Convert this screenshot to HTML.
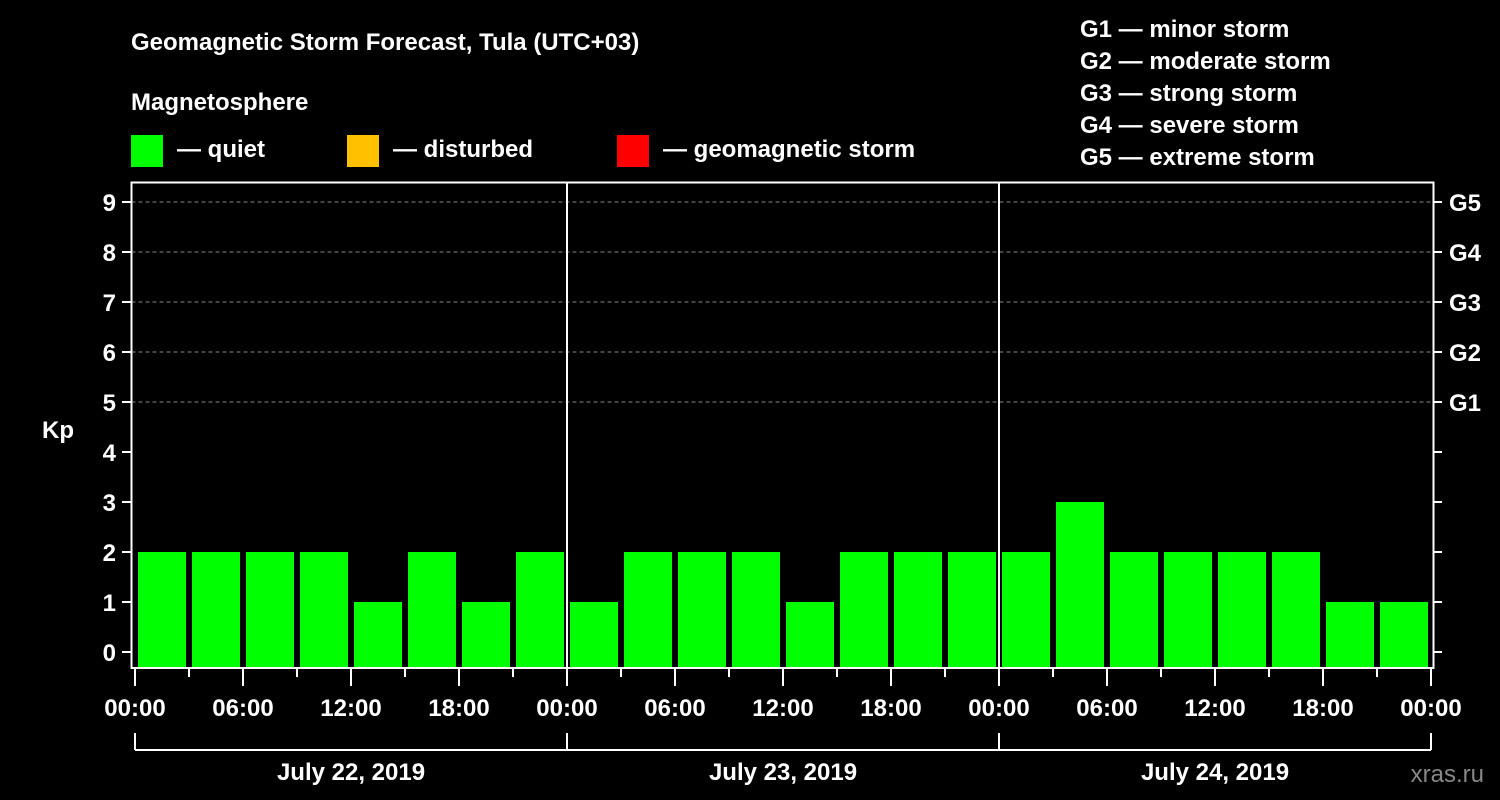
<!DOCTYPE html>
<html><head><meta charset="utf-8"><style>
body{margin:0;background:#000;}
svg{display:block;font-family:"Liberation Sans",Arial,sans-serif;font-weight:bold;}
</style></head><body>
<svg id="c" width="1500" height="800" viewBox="0 0 1500 800">
<rect width="1500" height="800" fill="#000"/>
<text x="131" y="50" fill="#fff" font-size="24">Geomagnetic Storm Forecast, Tula (UTC+03)</text>
<text x="131" y="110" fill="#fff" font-size="24">Magnetosphere</text>
<g><rect x="131" y="135" width="32" height="32" fill="#00ff00"/><text x="177" y="157" fill="#fff" font-size="24">— quiet</text></g>
<g><rect x="347" y="135" width="32" height="32" fill="#ffc000"/><text x="393" y="157" fill="#fff" font-size="24">— disturbed</text></g>
<g><rect x="617" y="135" width="32" height="32" fill="#ff0000"/><text x="663" y="157" fill="#fff" font-size="24">— geomagnetic storm</text></g>
<g fill="#fff" font-size="24">
<text x="1080" y="37">G1 — minor storm</text>
<text x="1080" y="69">G2 — moderate storm</text>
<text x="1080" y="101">G3 — strong storm</text>
<text x="1080" y="133">G4 — severe storm</text>
<text x="1080" y="165">G5 — extreme storm</text>
</g>
<text x="42" y="438" fill="#fff" font-size="24">Kp</text>
<text x="1484" y="782" fill="#888" font-size="24" text-anchor="end" font-weight="normal">xras.ru</text>
<g id="grid"></g><g id="bars"></g><g id="axes"></g>
</svg>
<script>
const kpValues=[2,2,2,2,1,2,1,2, 1,2,2,2,1,2,2,2, 2,3,2,2,2,2,1,1];
const yTicks=[0,1,2,3,4,5,6,7,8,9];
const gLabels=["G1","G2","G3","G4","G5"];
const xTickLabels=["00:00","06:00","12:00","18:00","00:00","06:00","12:00","18:00","00:00","06:00","12:00","18:00","00:00"];
const dayLabels=["July 22, 2019","July 23, 2019","July 24, 2019"];
const NS="http://www.w3.org/2000/svg";
const L=131.5,R=1433.5,T=182.5,B=668;
const x0=135,step=54;
const y=v=>652-v*50;
const x=i=>x0+i*step;
function mk(p,tag,a,txt){const e=document.createElementNS(NS,tag);for(const k in a)e.setAttribute(k,a[k]);if(txt!==undefined)e.textContent=txt;p.appendChild(e);return e;}
const grid=document.getElementById('grid'),bars=document.getElementById('bars'),axes=document.getElementById('axes');
for(let v=5;v<=9;v++){const g=mk(grid,'line',{x1:L,x2:R,y1:y(v),y2:y(v),stroke:'#888','stroke-dasharray':'4,3','stroke-width':1});

}
kpValues.forEach((v,i)=>{const c=v>=5?'#ff0000':(v>=4?'#ffc000':'#00ff00');
const r=mk(bars,'rect',{x:x(i)+3,y:y(v),width:48,height:B-y(v),fill:c});

});
const f=mk(axes,'rect',{x:L,y:T,width:R-L,height:B-T,fill:'none',stroke:'#fff','stroke-width':2});


for(let d=1;d<3;d++){const s=mk(axes,'line',{x1:x(d*8),x2:x(d*8),y1:T,y2:B,stroke:'#fff','stroke-width':2});

}
yTicks.forEach(v=>{mk(axes,'line',{x1:122,x2:L,y1:y(v),y2:y(v),stroke:'#fff','stroke-width':2});
const t=mk(axes,'text',{x:116,y:y(v)+9,fill:'#fff','font-size':24,'text-anchor':'end'},v);


mk(axes,'line',{x1:R,x2:1442,y1:y(v),y2:y(v),stroke:'#fff','stroke-width':2});});
gLabels.forEach((g,i)=>{const t=mk(axes,'text',{x:1449,y:y(i+5)+9,fill:'#fff','font-size':24},g);

});
for(let i=0;i<=24;i++){const major=i%2==0;
mk(axes,'line',{x1:x(i),x2:x(i),y1:B,y2:major?686:677,stroke:'#fff','stroke-width':2});}
xTickLabels.forEach((l,i)=>{const t=mk(axes,'text',{x:x(i*2),y:716,fill:'#fff','font-size':24,'text-anchor':'middle'},l);

});
mk(axes,'line',{x1:x(0),x2:x(24),y1:750,y2:750,stroke:'#fff','stroke-width':2});
for(let d=0;d<=3;d++)mk(axes,'line',{x1:x(d*8),x2:x(d*8),y1:733,y2:750,stroke:'#fff','stroke-width':2});
dayLabels.forEach((l,d)=>{const t=mk(axes,'text',{x:x(d*8+4),y:780,fill:'#fff','font-size':24,'text-anchor':'middle'},l);

});
</script>
</body></html>
